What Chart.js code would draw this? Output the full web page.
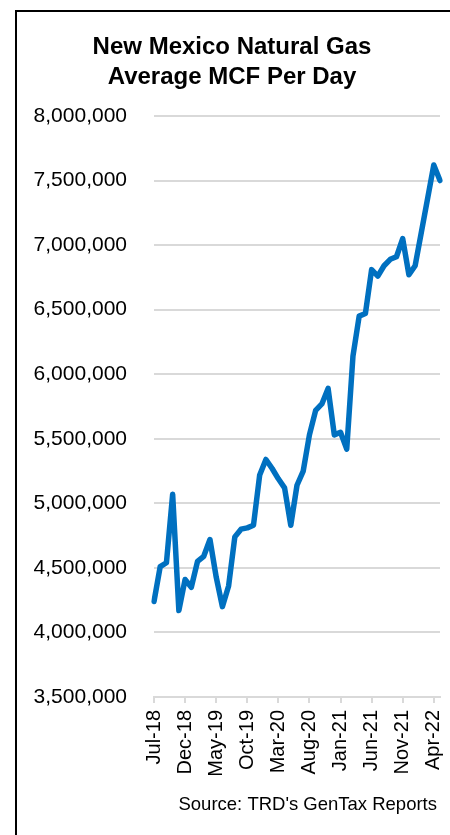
<!DOCTYPE html>
<html>
<head>
<meta charset="utf-8">
<script src="https://cdn.jsdelivr.net/npm/chart.js@4.4.1/dist/chart.umd.min.js"></script>
<style>
  html, body { margin: 0; padding: 0; background: #ffffff; }
  #wrap { width: 450px; height: 835px; position: relative; }
</style>
</head>
<body>
<div id="wrap"><canvas id="gas" width="450" height="835"></canvas></div>
<script>
// Monthly categories, Jul 2018 through May 2022
const months = [
  'Jul-18','Aug-18','Sep-18','Oct-18','Nov-18','Dec-18',
  'Jan-19','Feb-19','Mar-19','Apr-19','May-19','Jun-19','Jul-19','Aug-19','Sep-19','Oct-19','Nov-19','Dec-19',
  'Jan-20','Feb-20','Mar-20','Apr-20','May-20','Jun-20','Jul-20','Aug-20','Sep-20','Oct-20','Nov-20','Dec-20',
  'Jan-21','Feb-21','Mar-21','Apr-21','May-21','Jun-21','Jul-21','Aug-21','Sep-21','Oct-21','Nov-21','Dec-21',
  'Jan-22','Feb-22','Mar-22','Apr-22','May-22'
];

// Average MCF per day
const mcfPerDay = [
  4240000, 4510000, 4540000, 5070000, 4170000, 4410000,
  4350000, 4550000, 4590000, 4720000, 4430000, 4200000, 4360000, 4740000, 4800000, 4810000, 4830000, 5220000,
  5340000, 5270000, 5190000, 5120000, 4830000, 5140000, 5250000, 5530000, 5720000, 5770000, 5890000, 5530000,
  5550000, 5420000, 6140000, 6450000, 6470000, 6810000, 6760000, 6840000, 6890000, 6910000, 7050000, 6770000,
  6840000, 7100000, 7360000, 7620000, 7500000
];

// Months that carry an axis label
const labeledMonths = ['Jul-18','Dec-18','May-19','Oct-19','Mar-20','Aug-20','Jan-21','Jun-21','Nov-21','Apr-22'];

const yMin = 3500000, yMax = 8000000, yStep = 500000;

const titleLines = ['New Mexico Natural Gas', 'Average MCF Per Day'];
const sourceNote = "Source: TRD's GenTax Reports";

const FONT = "'Liberation Sans', Arial, sans-serif";

// Frame, heading and source note
const decor = {
  id: 'decor',
  afterDraw(chart) {
    const ctx = chart.ctx;
    ctx.save();
    ctx.strokeStyle = '#000000';
    ctx.lineWidth = 2;
    ctx.beginPath();
    ctx.moveTo(16, 835);
    ctx.lineTo(16, 11);
    ctx.lineTo(452, 11);
    ctx.stroke();

    ctx.fillStyle = '#000000';
    ctx.textAlign = 'center';
    ctx.textBaseline = 'alphabetic';
    ctx.font = 'bold 24px ' + FONT;
    ctx.fillText(titleLines[0], 232, 54);
    ctx.fillText(titleLines[1], 232, 84);

    ctx.textAlign = 'right';
    ctx.font = '18.5px ' + FONT;
    ctx.fillText(sourceNote, 437, 810);
    ctx.restore();
  }
};

new Chart(document.getElementById('gas'), {
  type: 'line',
  data: {
    labels: months,
    datasets: [{
      data: mcfPerDay,
      borderColor: '#0070C0',
      borderWidth: 5.5,
      pointRadius: 0,
      pointHoverRadius: 0,
      tension: 0,
      fill: false,
      borderJoinStyle: 'round',
      borderCapStyle: 'round'
    }]
  },
  options: {
    responsive: false,
    animation: false,
    events: [],
    layout: { padding: { top: 116, right: 10, bottom: 0, left: 0 } },
    plugins: {
      legend: { display: false },
      title: { display: false },
      tooltip: { enabled: false }
    },
    scales: {
      x: {
        type: 'category',
        offset: false,
        afterFit(scale) {
          scale.height = 138;
          scale.paddingLeft = 0;
          scale.paddingRight = 0;
        },
        grid: {
          drawOnChartArea: false,
          drawTicks: true,
          tickLength: 6,
          lineWidth: 2,
          color: (c) => labeledMonths.includes(months[c.index]) ? '#d9d9d9' : 'rgba(0,0,0,0)'
        },
        border: { display: true, color: '#d9d9d9', width: 2 },
        ticks: {
          autoSkip: false,
          minRotation: 90,
          maxRotation: 90,
          padding: 7,
          color: '#000000',
          font: { family: FONT, size: 20 },
          callback: function (value, index) {
            const m = months[index];
            return labeledMonths.includes(m) ? m : '';
          }
        }
      },
      y: {
        min: yMin,
        max: yMax,
        afterFit(scale) {
          scale.width = 154;
          scale.paddingTop = 0;
          scale.paddingBottom = 0;
        },
        grid: {
          drawTicks: false,
          color: '#d9d9d9',
          lineWidth: 2
        },
        border: { display: false },
        ticks: {
          stepSize: yStep,
          padding: 27,
          color: '#000000',
          font: { family: FONT, size: 21 },
          callback: (v) => v.toLocaleString('en-US')
        }
      }
    }
  },
  plugins: [decor]
});
</script>
</body>
</html>
